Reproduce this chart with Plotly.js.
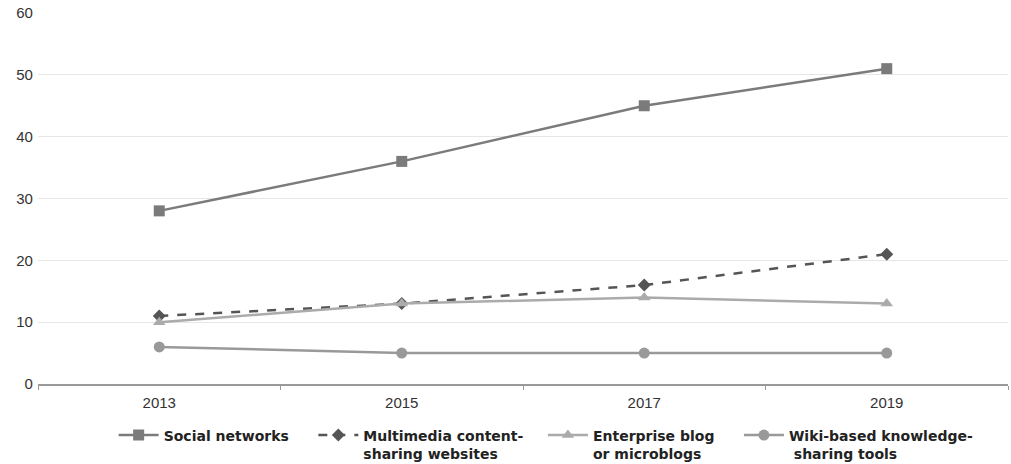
<!DOCTYPE html>
<html><head><meta charset="utf-8">
<script src="https://cdn.plot.ly/plotly-3.0.1.min.js"></script>
<style>body{margin:0;background:#fff}#c{width:1011px;height:464px}</style>
</head><body><div id="c"></div>
<script>
const years = ['2013','2015','2017','2019'];
const socialNetworks = [28,36,45,51];
const multimedia = [11,13,16,21];
const enterpriseBlog = [10,13,14,13];
const wikiTools = [6,5,5,5];
const nb = '\u00a0';
const seriesNames = ['Social networks'+nb.repeat(4),'Multimedia content-'+nb.repeat(3)+'<br>sharing websites','Enterprise blog'+nb.repeat(4)+'<br>or microblogs','Wiki-based knowledge-<br>'+nb+'sharing tools'];

const traces = [
 {x:years,y:socialNetworks,name:seriesNames[0],mode:'lines+markers',line:{color:'#7b7b7b',width:2.5},marker:{symbol:'square',size:11,color:'#7b7b7b'}},
 {x:years,y:multimedia,name:seriesNames[1],mode:'lines+markers',line:{color:'#555555',width:2.5,dash:'dash'},marker:{symbol:'diamond',size:10,color:'#555555'}},
 {x:years,y:enterpriseBlog,name:seriesNames[2],mode:'lines+markers',line:{color:'#ababab',width:2.5},marker:{symbol:'triangle-up',size:11,color:'#ababab'}},
 {x:years,y:wikiTools,name:seriesNames[3],mode:'lines+markers',line:{color:'#999999',width:2.5},marker:{symbol:'circle',size:11,color:'#999999'}}
];
const layout = {
 width:1011,height:464,
 margin:{l:38,r:3,t:13,b:80},
 paper_bgcolor:'#fff',plot_bgcolor:'#fff',
 font:{family:'Liberation Sans, Arial, sans-serif',size:15,color:'#333'},
 xaxis:{type:'category',range:[-0.5,3.5],showgrid:false,showline:true,linecolor:'#999',linewidth:2,
   ticks:'outside',tickson:'boundaries',ticklen:4,tickcolor:'#999',tickfont:{size:15,color:'#333'},ticklabelstandoff:4,fixedrange:true},
 yaxis:{range:[0,60],dtick:10,showgrid:true,gridcolor:'#e6e6e6',gridwidth:1,zeroline:false,showline:false,
   tickfont:{size:15,color:'#333'},ticksuffix:' ',fixedrange:true},
 showlegend:true,
 legend:{orientation:'h',x:0.078,xanchor:'left',xref:'paper',yref:'container',y:0.096,yanchor:'top',
   font:{size:14,color:'#222',family:'DejaVu Sans, sans-serif',weight:'bold'},
   bgcolor:'rgba(0,0,0,0)',itemwidth:40,traceorder:'normal',valign:'top'}
};
Plotly.newPlot('c',traces,layout,{displayModeBar:false,staticPlot:true});
</script></body></html>
